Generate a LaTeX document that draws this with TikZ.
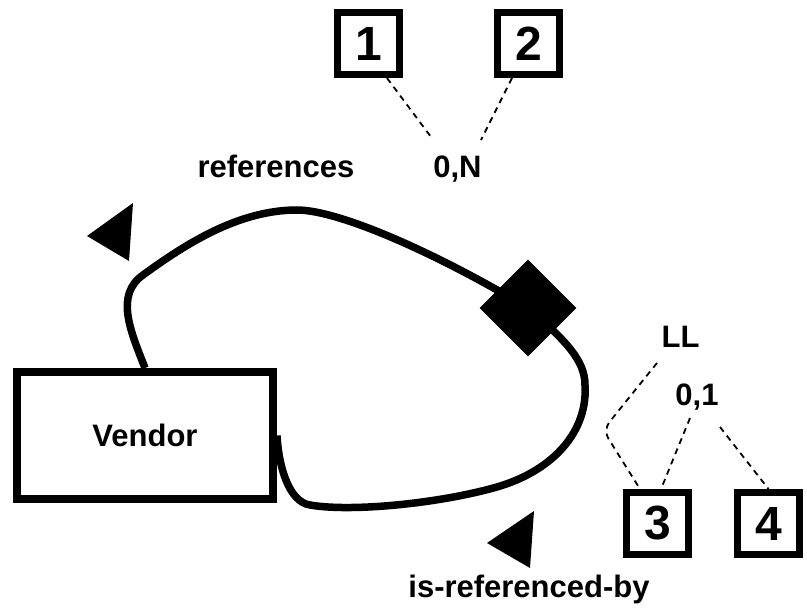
\documentclass[tikz,border=0pt]{standalone}
\usepackage{fontspec}
\setmainfont{Liberation Sans}
\usetikzlibrary{shapes.geometric,backgrounds}
\begin{document}
\begin{tikzpicture}[x=1pt,y=-1pt,
  lbl/.style={font=\fontsize{31}{36}\selectfont\bfseries, inner sep=0pt, anchor=base},
  numbox/.style={draw, line width=7pt, minimum size=62pt, inner sep=0pt, font=\fontsize{48}{52}\selectfont\bfseries},
  ent/.style={draw, line width=8pt, minimum width=256pt, minimum height=127pt, inner sep=0pt, font=\fontsize{31}{36}\selectfont\bfseries},
  relkey/.style={diamond, fill=black, minimum width=97pt, minimum height=97pt, inner sep=0pt},
  rel/.style={line width=7.5pt},
  card/.style={line width=1.8pt, dash pattern=on 6pt off 5pt},
  tri/.style={fill=black}]
\useasboundingbox (0,0) rectangle (807,610);

% entity and relationship key
\node[ent] (vendor) at (145,435.5) {Vendor};
\node[relkey] (dia) at (528,308) {};

% number boxes
\node[numbox] (n1) at (368.5,43.5) {1};
\node[numbox] (n2) at (528.5,43.5) {2};
\node[numbox] (n3) at (657.5,523.5) {3};
\node[numbox] (n4) at (768.5,523.5) {4};

% labels
\node[lbl] (refs) at (276,178) {references};
\node[lbl] (c0N) at (457.5,178) {0,N};
\node[lbl] (cLL) at (680.5,347) {LL};
\node[lbl] (c01) at (697,405) {0,1};
\node[lbl] (isref) at (529,597) {is-referenced-by};

% relationship curves
\begin{scope}[on background layer]
\draw[rel] (vendor.north) .. controls (130,330) and (115,295) .. (143,275)
  .. controls (183,246) and (237,210) .. (297,210)
  .. controls (340,210) and (440,255) .. (dia.center);
\draw[rel] (dia.center) .. controls (565,340) and (585,360) .. (585,385)
  .. controls (588,430) and (555,470) .. (497,487)
  .. controls (437,504) and (350,512) .. (310,505)
  .. controls (290,502) and (279,470) .. (vendor.east);
\end{scope}

% direction triangles
\fill[tri] (133,203) -- (87,236) -- (129,261) -- cycle;
\fill[tri] (534,511) -- (487,543) -- (530,568) -- cycle;

% cardinality connectors
\coordinate (eN1) at (431,137);
\coordinate (eN2) at (481,140);
\coordinate (eLL) at (657,363);
\coordinate (bend) at (603,430);
\coordinate (e01a) at (690,418);
\coordinate (e01b) at (720,427);
\draw[card] ([xshift=18.5pt]n1.south) -- (eN1);
\draw[card] ([xshift=-16.5pt]n2.south) -- (eN2);
\draw[card, rounded corners=10pt] (eLL) -- (bend) -- ([xshift=-17.5pt]n3.north);
\draw[card] (e01a) -- ([xshift=3.5pt]n3.north);
\draw[card] (e01b) -- (n4.north);
\end{tikzpicture}
\end{document}
